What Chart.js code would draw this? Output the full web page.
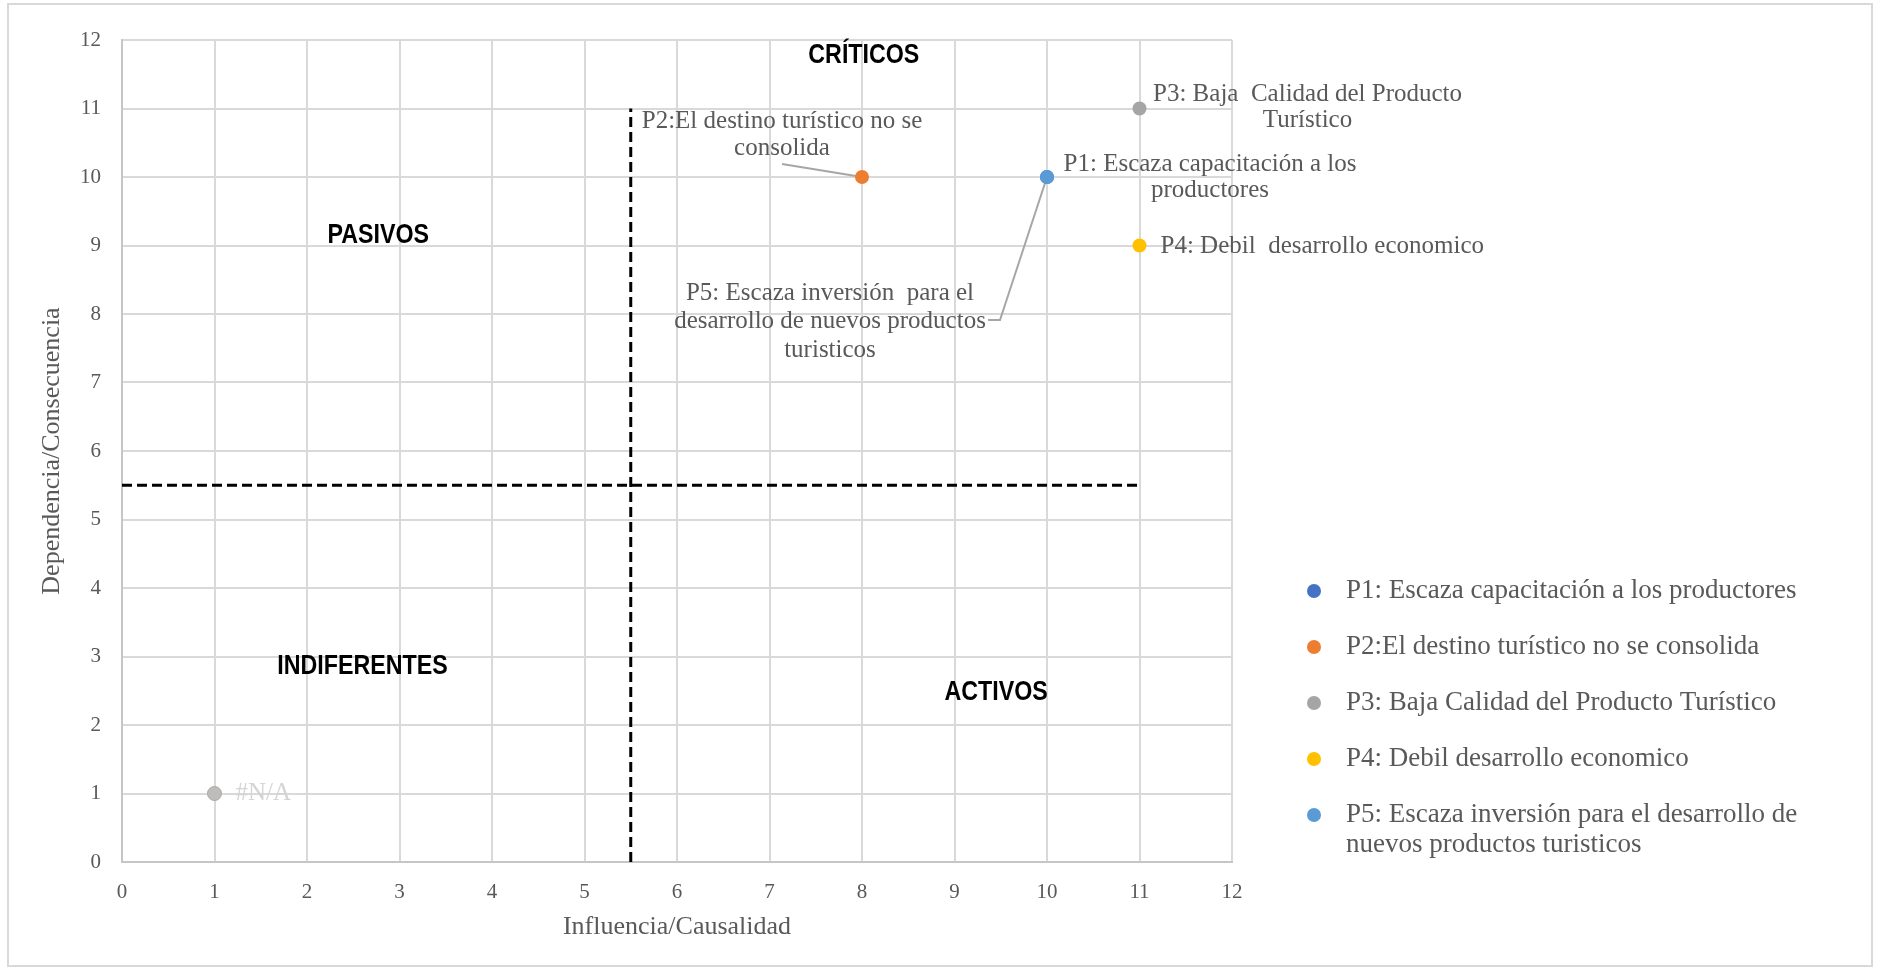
<!DOCTYPE html>
<html>
<head>
<meta charset="utf-8">
<title>Matriz de Vester</title>
<script src="https://cdn.jsdelivr.net/npm/chart.js@4.4.1/dist/chart.umd.min.js"></script>
<style>
  body { margin: 0; background: #fff; }
  #wrap { width: 1877px; height: 969px; position: relative; }
</style>
</head>
<body>
<div id="wrap"><canvas id="matriz"></canvas></div>
<script>
// problemas y su ubicación: influencia (x) / dependencia (y)
const problemas = [
  'P1: Escaza capacitación a los productores',
  'P2:El destino turístico no se consolida',
  'P3: Baja Calidad del Producto Turístico',
  'P4: Debil desarrollo economico',
  'P5: Escaza inversión para el desarrollo de nuevos productos turisticos'
];
const influencia = [10, 8, 11, 11, 10];
const dependencia = [10, 10, 11, 9, 10];

// etiquetas junto a cada punto
const etiquetas = [
  ['P1: Escaza capacitación a los', 'productores'],
  ['P2:El destino turístico no se', 'consolida'],
  ['P3: Baja  Calidad del Producto', 'Turístico'],
  ['P4: Debil  desarrollo economico'],
  ['P5: Escaza inversión  para el', 'desarrollo de nuevos productos', 'turisticos']
];

// punto sin dato
const sinDatoX = [1];
const sinDatoY = [1];
const sinDatoTexto = '#N/A';

// ejes
const ejeMin = 0;
const ejeMax = 12;
const corte = 5.5;      // separación de cuadrantes
const finCorte = 11;    // hasta donde llegan las líneas de corte

const cuadrantes = ['CRÍTICOS', 'PASIVOS', 'INDIFERENTES', 'ACTIVOS'];

// --- estilos ---
const colores = ['#4472C4', '#ED7D31', '#A5A5A5', '#FFC000', '#5B9BD5'];
const gris = '#595959';
const serif = '"Liberation Serif", "Times New Roman", serif';

// ubicación de los títulos de cuadrante (en unidades de los ejes)
const posCuadrantes = [[8.02, 11.78], [2.77, 9.15], [2.6, 2.85], [9.45, 2.48]];

// desplazamiento de las etiquetas respecto al punto (px)
const estiloEtiquetas = [
  { dx: 163, dy: -13, lh: 26, align: 'center' },
  { dx: -80, dy: -56, lh: 27, align: 'center', guia: [[-80, -13]] },
  { dx: 168, dy: -14, lh: 26, align: 'center' },
  { dx: 21, dy: 1, lh: 26, align: 'left' },
  { dx: -217, dy: 116, lh: 28.5, align: 'center', guia: [[-47, 143], [-59, 143]] }
];

const datasets = problemas.map((p, i) => ({
  label: p,
  data: [{ x: influencia[i], y: dependencia[i] }],
  backgroundColor: colores[i],
  borderColor: colores[i],
  borderWidth: 0,
  pointRadius: 7,
  pointHoverRadius: 7,
  order: i === 4 ? 0 : 1
}));

datasets.push({
  label: sinDatoTexto,
  data: sinDatoX.map((v, i) => ({ x: v, y: sinDatoY[i] })),
  backgroundColor: '#BDBDBD',
  borderColor: '#AFA79F',
  borderWidth: 1,
  pointRadius: 7,
  order: 1
});

// líneas de corte
datasets.push({
  type: 'line',
  label: 'corte-v',
  data: [{ x: corte, y: ejeMin }, { x: corte, y: finCorte }],
  borderColor: '#000',
  borderWidth: 3,
  borderDash: [10, 5],
  pointRadius: 0,
  order: 2
});
datasets.push({
  type: 'line',
  label: 'corte-h',
  data: [{ x: ejeMin, y: corte }, { x: finCorte, y: corte }],
  borderColor: '#000',
  borderWidth: 3,
  borderDash: [10, 5],
  pointRadius: 0,
  order: 2
});

const fondo = {
  id: 'fondo',
  beforeDraw(chart) {
    const { ctx, width, height } = chart;
    ctx.save();
    ctx.fillStyle = '#fff';
    ctx.fillRect(0, 0, width, height);
    ctx.strokeStyle = '#D9D9D9';
    ctx.lineWidth = 2;
    ctx.strokeRect(8, 4, 1864, 962);
    ctx.restore();
  }
};

const guias = {
  id: 'guias',
  beforeDatasetsDraw(chart) {
    const { ctx, scales: { x, y } } = chart;
    ctx.save();
    ctx.strokeStyle = '#A6A6A6';
    ctx.lineWidth = 2;
    estiloEtiquetas.forEach((o, i) => {
      if (!o.guia) return;
      const px = x.getPixelForValue(influencia[i]);
      const py = y.getPixelForValue(dependencia[i]);
      ctx.beginPath();
      ctx.moveTo(px, py);
      o.guia.forEach(([gx, gy]) => ctx.lineTo(px + gx, py + gy));
      ctx.stroke();
    });
    ctx.restore();
  }
};

const textos = {
  id: 'textos',
  afterDatasetsDraw(chart) {
    const { ctx, scales: { x, y } } = chart;
    ctx.save();
    ctx.textBaseline = 'middle';

    // etiquetas de datos
    ctx.font = '25px ' + serif;
    ctx.fillStyle = gris;
    etiquetas.forEach((lineas, i) => {
      const o = estiloEtiquetas[i];
      const px = x.getPixelForValue(influencia[i]);
      const py = y.getPixelForValue(dependencia[i]);
      ctx.textAlign = o.align;
      lineas.forEach((t, k) => ctx.fillText(t, px + o.dx, py + o.dy + k * o.lh));
    });

    // #N/A
    ctx.fillStyle = '#D4D4D4';
    ctx.textAlign = 'left';
    sinDatoX.forEach((v, i) => {
      ctx.fillText(sinDatoTexto, x.getPixelForValue(v) + 21, y.getPixelForValue(sinDatoY[i]));
    });

    // títulos de cuadrante
    ctx.fillStyle = '#000';
    ctx.textAlign = 'center';
    ctx.font = 'bold 28px "Liberation Sans", Arial, sans-serif';
    cuadrantes.forEach((c, i) => {
      const [cx, cy] = posCuadrantes[i];
      ctx.save();
      ctx.translate(x.getPixelForValue(cx), y.getPixelForValue(cy));
      ctx.scale(0.83, 1);
      ctx.fillText(c, 0, 0);
      ctx.restore();
    });
    ctx.restore();
  }
};

const leyenda = {
  id: 'leyenda',
  afterDraw(chart) {
    const { ctx } = chart;
    const x0 = 1314, xt = 1346, maxAncho = 485;
    let yy = 591;
    ctx.save();
    ctx.font = '27px ' + serif;
    ctx.textBaseline = 'middle';
    ctx.textAlign = 'left';
    problemas.forEach((p, i) => {
      ctx.fillStyle = colores[i];
      ctx.beginPath();
      ctx.arc(x0, yy, 7, 0, Math.PI * 2);
      ctx.fill();
      // partir el texto si no cabe
      const lineas = [];
      let actual = '';
      p.split(' ').forEach(w => {
        const prueba = actual ? actual + ' ' + w : w;
        if (ctx.measureText(prueba).width > maxAncho && actual) {
          lineas.push(actual);
          actual = w;
        } else {
          actual = prueba;
        }
      });
      lineas.push(actual);
      ctx.fillStyle = gris;
      lineas.forEach((l, k) => ctx.fillText(l, xt, yy + k * 30));
      yy += 56 + (lineas.length - 1) * 30;
    });
    ctx.restore();
  }
};

new Chart(document.getElementById('matriz'), {
  type: 'scatter',
  data: { datasets: datasets },
  options: {
    responsive: true,
    maintainAspectRatio: false,
    animation: false,
    layout: { padding: { top: 40, right: 645, bottom: 0, left: 0 } },
    plugins: {
      legend: { display: false },
      tooltip: { enabled: false }
    },
    scales: {
      x: {
        type: 'linear',
        min: ejeMin,
        max: ejeMax,
        afterFit: s => { s.height = 107; },
        ticks: { stepSize: 1, padding: 18, color: gris, font: { family: serif, size: 21 } },
        grid: { color: '#D9D9D9', lineWidth: 2, drawTicks: false },
        border: { color: '#C6C6C6', width: 2 },
        title: {
          display: true,
          text: 'Influencia/Causalidad',
          color: gris,
          font: { family: serif, size: 26 },
          padding: { top: 0, bottom: 26 }
        }
      },
      y: {
        type: 'linear',
        min: ejeMin,
        max: ejeMax,
        afterFit: s => { s.width = 122; },
        ticks: { stepSize: 1, padding: 21, color: gris, font: { family: serif, size: 21 } },
        grid: { color: '#D9D9D9', lineWidth: 2, drawTicks: false },
        border: { color: '#C6C6C6', width: 2 },
        title: {
          display: true,
          text: 'Dependencia/Consecuencia',
          color: gris,
          font: { family: serif, size: 26 },
          padding: { top: 37, bottom: 0 }
        }
      }
    }
  },
  plugins: [fondo, guias, textos, leyenda]
});
</script>
</body>
</html>
